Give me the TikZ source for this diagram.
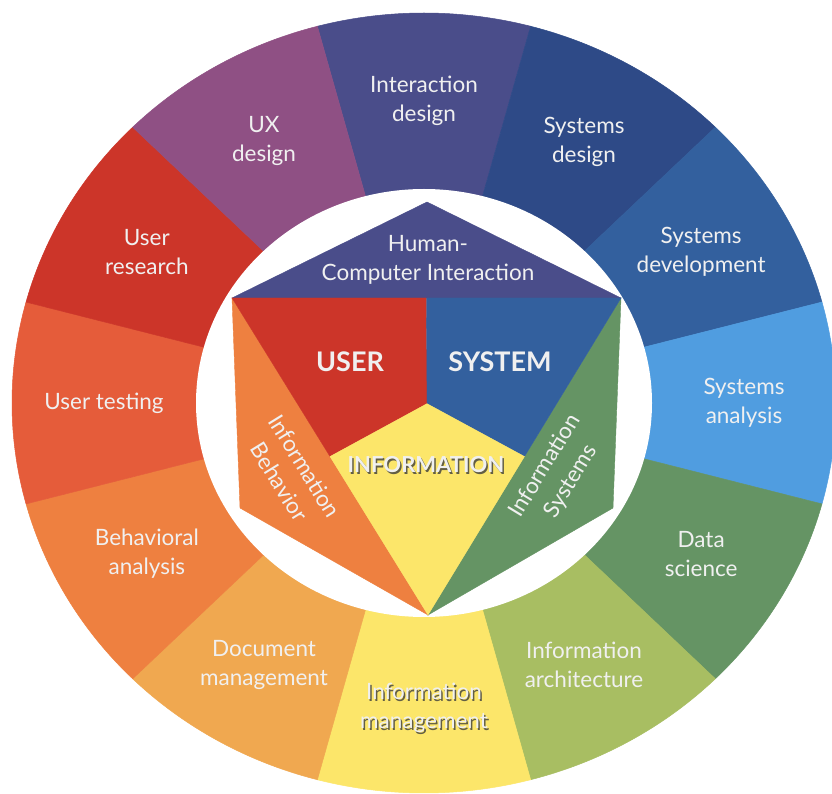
\documentclass[tikz,border=0pt]{standalone}
\usepackage{fontspec}
\setmainfont{Lato}
\usetikzlibrary{calc}
\begin{document}
\begin{tikzpicture}[x=1pt,y=1pt,
  ringlabel/.style={text=textColor,align=center,inner sep=0pt,outer sep=0pt,font=\fontsize{22.5}{29}\selectfont},
  corelabel/.style={text=textColor,inner sep=0pt,outer sep=0pt,font=\fontsize{27}{30}\selectfont\bfseries},
  shadowlabel/.style={text=shadowColor,opacity=0.8}]
\definecolor{fillColor}{RGB}{255,255,255}
\definecolor{textColor}{RGB}{240,240,240}
\definecolor{shadowColor}{RGB}{60,60,60}
\definecolor{interactionColor}{RGB}{74,77,138}
\definecolor{sysDesignColor}{RGB}{46,74,135}
\definecolor{systemColor}{RGB}{51,96,158}
\definecolor{sysAnalysisColor}{RGB}{80,157,224}
\definecolor{dataColor}{RGB}{101,148,100}
\definecolor{archColor}{RGB}{168,190,98}
\definecolor{infoColor}{RGB}{252,230,106}
\definecolor{documentColor}{RGB}{240,168,80}
\definecolor{behaviorColor}{RGB}{238,128,64}
\definecolor{testingColor}{RGB}{229,92,58}
\definecolor{userColor}{RGB}{204,53,41}
\definecolor{uxColor}{RGB}{143,80,132}
\path[use as bounding box,fill=fillColor] (0,0) rectangle (832,793);
\begin{scope}
\path[clip] (0,0) rectangle (832,793);

\begin{scope}[shift={(424,390)}]
\foreach \a/\col in {90/interactionColor,60/sysDesignColor,30/systemColor,0/sysAnalysisColor,
  -30/dataColor,-60/archColor,-90/infoColor,-120/documentColor,-150/behaviorColor,
  180/testingColor,150/userColor,120/uxColor}
  \path[fill=\col,draw=\col,line width=0.5pt] (0,0) -- (\a-15:412 and 390)
    arc[start angle=\a-15,end angle=\a+15,x radius=412,y radius=390] -- cycle;

\path[fill=fillColor] (0,0) ellipse[x radius=228,y radius=214];

\foreach \a/\nm/\txt in {90/interaction/{Interaction\\design},60/sysDesign/{Systems\\design},
  30/sysDevelopment/{Systems\\development},0/sysAnalysis/{Systems\\analysis},
  -30/dataScience/{Data\\science},-60/infoArchitecture/{Information\\architecture},
  -120/docManagement/{Document\\management},-150/behavioral/{Behavioral\\analysis},
  180/userTesting/{User testing},150/userResearch/{User\\research},120/uxDesign/{UX\\design}}
  \node[ringlabel] (\nm) at (\a:320 and 302) {\txt};

\node[ringlabel,shadowlabel] (infoManagementShadow) at (1.5,-306.5) {Information\\management};
\node[ringlabel] (infoManagement) at (0,-305) {Information\\management};
\end{scope}

\coordinate (top) at (427,591);
\coordinate (ul) at (232,495);
\coordinate (ur) at (621,495);
\coordinate (lr) at (613,285);
\coordinate (bot) at (428,178);
\coordinate (ll) at (240,285);
\coordinate (mt) at ($(ul)!0.5!(ur)$);
\coordinate (ml) at ($(ul)!0.5!(bot)$);
\coordinate (mr) at ($(ur)!0.5!(bot)$);
\coordinate (ctr) at ($(mt)!0.3333!(bot)$);

\path[fill=interactionColor,draw=interactionColor,line width=0.4pt] (ul) -- (top) -- (ur) -- cycle;

\path[fill=behaviorColor,draw=behaviorColor,line width=0.4pt] (ul) -- (bot) -- (ll) -- cycle;

\path[fill=dataColor,draw=dataColor,line width=0.4pt] (ur) -- (lr) -- (bot) -- cycle;

\path[fill=userColor,draw=userColor,line width=0.3pt] (ul) -- (mt) -- (ctr) -- (ml) -- cycle;

\path[fill=systemColor,draw=systemColor,line width=0.3pt] (mt) -- (ur) -- (mr) -- (ctr) -- cycle;

\path[fill=infoColor,draw=infoColor,line width=0.3pt] (ctr) -- (mr) -- (bot) -- (ml) -- cycle;

\node[ringlabel] (hci) at (428,533) {Human-\\Computer Interaction};

\node[corelabel] (user) at (350,431) {USER};

\node[corelabel] (system) at (500,431) {SYSTEM};

\node[corelabel,shadowlabel,font=\fontsize{22}{26}\selectfont\bfseries] (informationShadow) at (427.5,326.5) {INFORMATION};
\node[corelabel,font=\fontsize{22}{26}\selectfont\bfseries] (information) at (426,328) {INFORMATION};

\node[ringlabel,rotate=-58.3,font=\fontsize{22.5}{30}\selectfont] (infoBehavior) at (292,319) {Information\\Behavior};

\node[ringlabel,rotate=58.7,font=\fontsize{22.5}{30}\selectfont] (infoSystems) at (558,319) {Information\\Systems};
\end{scope}
\end{tikzpicture}
\end{document}
